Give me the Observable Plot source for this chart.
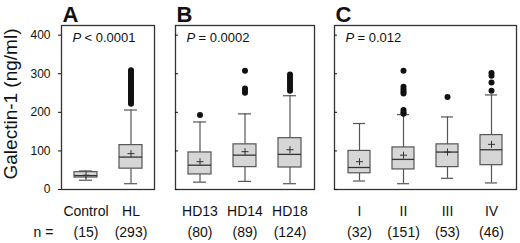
<!DOCTYPE html>
<html>
<head>
<meta charset="utf-8">
<script src="https://cdn.jsdelivr.net/npm/d3@7"></script>
<script src="https://cdn.jsdelivr.net/npm/@observablehq/plot@0.6"></script>
<style>
  html, body { margin: 0; padding: 0; background: #fff; }
  #chart { position: relative; width: 520px; height: 243px; background: #fff; overflow: hidden;
           font-family: 'Liberation Sans', Arial, Helvetica, sans-serif; color: #111; }
  #chart svg { position: absolute; left: 0; top: 0; }
  #ytitle { position: absolute; left: 10px; top: 104px; transform: translate(-50%, -50%) rotate(-90deg);
            white-space: nowrap; font-size: 19px; line-height: 1; }
</style>
</head>
<body>
<div id="chart"><div id="ytitle"></div></div>
<script>
// ---- data ----
const yTicks = [0, 100, 200, 300, 400];

const catsA = ["Control", "HL"];
const nA    = [15, 293];
const lowA  = [24, 15];
const q1A   = [31, 54];
const medA  = [36, 84];
const q3A   = [45, 115];
const highA = [48, 206];
const meanA = [37, 93];
const outHL = [222, 226, 230, 234, 238, 242, 246, 250, 254, 258, 262, 266, 270, 275, 280, 285, 290, 295, 300, 305, 309];

const catsB = ["HD13", "HD14", "HD18"];
const nB    = [80, 89, 124];
const lowB  = [19, 21, 15];
const q1B   = [39, 58, 57];
const medB  = [63, 89, 91];
const q3B   = [96, 117, 133];
const highB = [175, 196, 243];
const meanB = [72, 98, 103];
const outHD13 = [193];
const outHD14 = [251, 256, 262, 308];
const outHD18 = [256, 262, 268, 274, 280, 286, 292, 298];

const catsC = ["I", "II", "III", "IV"];
const nC    = [32, 151, 53, 46];
const lowC  = [22, 15, 29, 17];
const q1C   = [42, 52, 58, 63];
const medC  = [57, 78, 97, 103];
const q3C   = [100, 109, 117, 141];
const highC = [171, 194, 188, 245];
const meanC = [72, 89, 97, 117];
const outII  = [196, 200, 206, 249, 254, 260, 266, 308];
const outIII = [240];
const outIV  = [256, 277, 295, 302];

const pLabels = ["< 0.0001", "= 0.0002", "= 0.012"];
const panelLetters = ["A", "B", "C"];
const yTitle = "Galectin-1 (ng/ml)";

// ---- drawing ----
const FONT = "'Liberation Sans', Arial, Helvetica, sans-serif";
const W = 520, H = 243;

function rowsOf(cats, n, low, q1, med, q3, high, mean) {
  return cats.map((c, i) => ({cat: c, n: n[i], low: low[i], q1: q1[i], med: med[i], q3: q3[i], high: high[i], mean: mean[i]}));
}
function outs(pairs) {
  const r = [];
  for (const [cat, vals] of pairs) for (const v of vals) r.push({cat, y: v});
  return r;
}

function panel(cfg) {
  const rows = cfg.rows;
  const marks = [
    Plot.ruleX(rows, {x: "cat", y1: "low", y2: "q1", stroke: "#555", strokeWidth: 1.2}),
    Plot.ruleX(rows, {x: "cat", y1: "q3", y2: "high", stroke: "#555", strokeWidth: 1.2}),
    Plot.tickY(rows, {x: "cat", y: "low", stroke: "#555", strokeWidth: 1.2, insetLeft: 5, insetRight: 5}),
    Plot.tickY(rows, {x: "cat", y: "high", stroke: "#555", strokeWidth: 1.2, insetLeft: 5, insetRight: 5}),
    Plot.barY(rows, {x: "cat", y1: "q1", y2: "q3", fill: "#d6d6d6", stroke: "#555", strokeWidth: 1.2}),
    Plot.tickY(rows, {x: "cat", y: "med", stroke: "#333", strokeWidth: 1.3}),
    Plot.dot(rows, {x: "cat", y: "mean", symbol: "plus", r: 2.4, stroke: "#333", strokeWidth: 1}),
    Plot.dot(cfg.out, {x: "cat", y: "y", r: 3, fill: "#111", stroke: null}),
    Plot.frame({stroke: "#333", strokeWidth: 1.3}),
    Plot.axisY({ticks: yTicks, tickSize: cfg.first ? 3 : -3, tickPadding: 8, fontSize: 12, label: null,
                tickFormat: cfg.first ? (d => String(d)) : (() => "")}),
    Plot.axisX({tickSize: 0, tickPadding: 17, fontSize: 14, label: null}),
    Plot.text(rows, {x: "cat", text: d => `(${d.n})`, frameAnchor: "bottom", lineAnchor: "middle", dy: 43, fontSize: 14}),
    Plot.text([cfg.letter], {text: d => d, frameAnchor: "top-left", lineAnchor: "middle", dx: 1, dy: -11, textAnchor: "start", fontSize: 22, fontWeight: "bold"}),
    Plot.text(["P"], {text: d => d, frameAnchor: "top-left", lineAnchor: "middle", dx: 11, dy: 12.5, textAnchor: "start", fontSize: 13, fontStyle: "italic"}),
    Plot.text([cfg.p], {text: d => d, frameAnchor: "top-left", lineAnchor: "middle", dx: 23, dy: 12.5, textAnchor: "start", fontSize: 13})
  ];
  if (cfg.first) {
    marks.push(Plot.text(["n ="], {text: d => d, frameAnchor: "bottom-left", lineAnchor: "middle", dx: -28, dy: 43, textAnchor: "start", fontSize: 14}));
  }
  return Plot.plot({
    width: W, height: H,
    marginTop: 25, marginBottom: 54,
    marginLeft: cfg.ml, marginRight: cfg.mr,
    x: {domain: cfg.rows.map(d => d.cat), type: "band", paddingInner: 0.5, paddingOuter: 0.28},
    y: {domain: [0, 425], label: null},
    style: {fontFamily: FONT, background: "transparent", color: "#111", overflow: "visible"},
    marks
  });
}

const chart = document.getElementById("chart");
document.getElementById("ytitle").textContent = yTitle;
chart.append(panel({
  first: true, letter: panelLetters[0], p: pLabels[0], ml: 61, mr: W - 154,
  rows: rowsOf(catsA, nA, lowA, q1A, medA, q3A, highA, meanA),
  out: outs([["HL", outHL]])
}));
chart.append(panel({
  first: false, letter: panelLetters[1], p: pLabels[1], ml: 175, mr: W - 314,
  rows: rowsOf(catsB, nB, lowB, q1B, medB, q3B, highB, meanB),
  out: outs([["HD13", outHD13], ["HD14", outHD14], ["HD18", outHD18]])
}));
chart.append(panel({
  first: false, letter: panelLetters[2], p: pLabels[2], ml: 334, mr: W - 516,
  rows: rowsOf(catsC, nC, lowC, q1C, medC, q3C, highC, meanC),
  out: outs([["II", outII], ["III", outIII], ["IV", outIV]])
}));
</script>
</body>
</html>
